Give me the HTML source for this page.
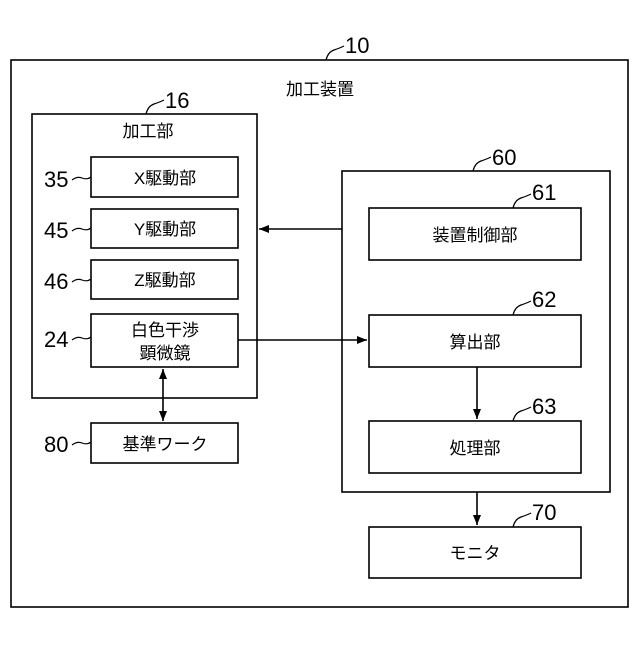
<!DOCTYPE html>
<html><head><meta charset="utf-8"><style>
body{margin:0;background:#fff}
svg text{font-family:"Liberation Sans","Noto Sans CJK JP",sans-serif;fill:#000}
</style></head><body>
<svg width="640" height="640" viewBox="0 0 640 640" xmlns="http://www.w3.org/2000/svg">
<defs><marker id="a" markerWidth="10" markerHeight="8" refX="10" refY="4" orient="auto" markerUnits="userSpaceOnUse"><path d="M0,0 L10,4 L0,8 Z" fill="#000"/></marker>
<marker id="b" markerWidth="10" markerHeight="8" refX="0" refY="4" orient="auto" markerUnits="userSpaceOnUse"><path d="M10,0 L0,4 L10,8 Z" fill="#000"/></marker></defs>
<g fill="none" stroke="#000" stroke-width="1.6">
<rect x="11" y="60" width="617" height="547"/>
<rect x="32" y="114" width="225" height="284"/>
<rect x="91" y="157" width="147" height="40"/>
<rect x="91" y="209" width="147" height="39"/>
<rect x="91" y="260" width="147" height="39"/>
<rect x="91" y="314" width="147" height="53"/>
<rect x="91" y="423" width="147" height="40"/>
<rect x="342" y="171" width="268" height="321"/>
<rect x="369" y="208" width="212" height="52"/>
<rect x="369" y="315" width="212" height="52"/>
<rect x="369" y="421" width="212" height="52"/>
<rect x="369" y="527" width="212" height="51"/>
<line x1="342" y1="229" x2="259" y2="229" marker-end="url(#a)"/>
<line x1="238" y1="340" x2="367" y2="340" marker-end="url(#a)"/>
<line x1="477" y1="367" x2="477" y2="419" marker-end="url(#a)"/>
<line x1="477" y1="492" x2="477" y2="525" marker-end="url(#a)"/>
<line x1="163" y1="369" x2="163" y2="421" marker-start="url(#b)" marker-end="url(#a)"/>
<g stroke-width="1.2">
<path d="M326,60 q2,-8 8,-10 q6,-2 10,-4"/>
<path d="M146,114 q2,-8 8,-10 q6,-2 10,-4"/>
<path d="M473,171 q2,-8 8,-10 q6,-2 10,-4"/>
<path d="M513,208 q2,-8 8,-10 q6,-2 10,-4"/>
<path d="M513,315 q2,-8 8,-10 q6,-2 10,-4"/>
<path d="M513,421 q2,-8 8,-10 q6,-2 10,-4"/>
<path d="M513,527 q2,-8 8,-10 q6,-2 10,-4"/>
<path d="M72,180 q5,-4 10,-2 q5,2 9,-1"/>
<path d="M72,231 q5,-4 10,-2 q5,2 9,-1"/>
<path d="M72,282 q5,-4 10,-2 q5,2 9,-1"/>
<path d="M72,340 q5,-4 10,-2 q5,2 9,-1"/>
<path d="M72,445 q5,-4 10,-2 q5,2 9,-1"/>
</g></g>
<g font-size="22">
<text x="345" y="53">10</text>
<text x="165" y="108">16</text>
<text x="492" y="165">60</text>
<text x="532" y="200">61</text>
<text x="532" y="307">62</text>
<text x="532" y="414">63</text>
<text x="532" y="520">70</text>
<text x="44" y="187">35</text>
<text x="44" y="238">45</text>
<text x="44" y="289">46</text>
<text x="44" y="347">24</text>
<text x="44" y="452">80</text>
</g>
<g font-size="17" text-anchor="middle">
<text x="320" y="95">加工装置</text>
<text x="148" y="137">加工部</text>
<text x="165" y="184">X駆動部</text>
<text x="165" y="235">Y駆動部</text>
<text x="165" y="286">Z駆動部</text>
<text x="165" y="336">白色干渉</text>
<text x="165" y="359">顕微鏡</text>
<text x="165" y="450">基準ワーク</text>
<text x="475" y="241">装置制御部</text>
<text x="475" y="348">算出部</text>
<text x="475" y="454">処理部</text>
<text x="475" y="559">モニタ</text>
</g>
</svg>
</body></html>
